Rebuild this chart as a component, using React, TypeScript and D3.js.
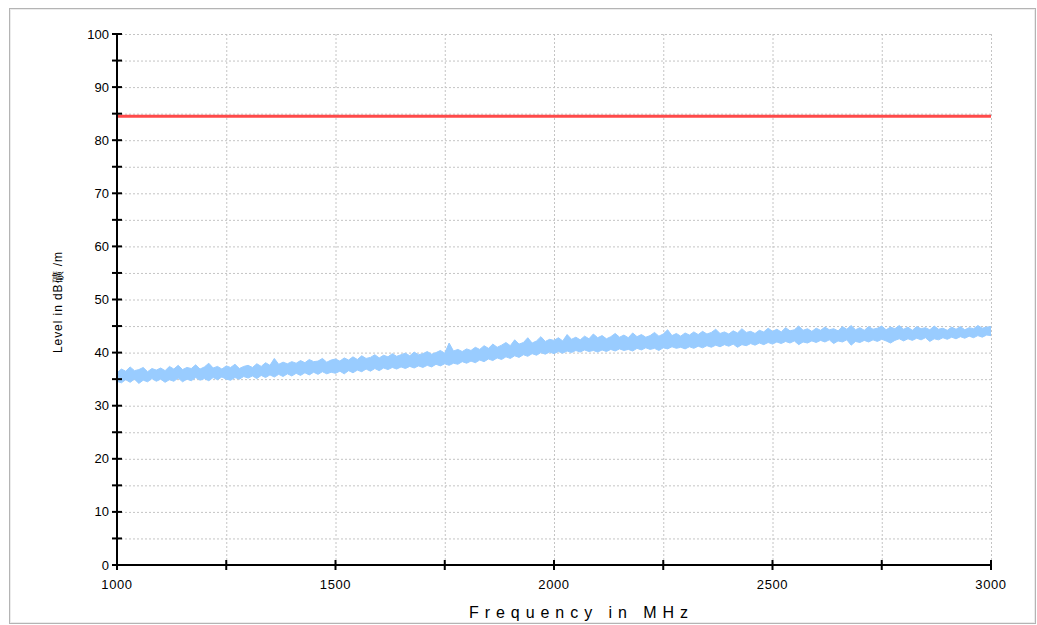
import React from 'react';
import * as d3 from 'd3';

// frequency grid of the trace envelopes, MHz
const freqs: number[] = d3.range(1000, 3001, 10);

// upper / lower edge of the measured noise band, dBµV/m
const upperLevel: number[] = [
	36.2, 36.9, 36.5, 37.3, 36.6, 36.8, 37.2, 36.4, 37.0, 36.7,
	37.1, 36.6, 37.4, 36.9, 37.6, 36.8, 37.2, 37.0, 37.7, 36.9,
	37.3, 38.0, 37.1, 37.4, 36.9, 37.5, 37.2, 37.8, 37.0, 37.4,
	37.6, 37.2, 37.9, 37.4, 38.1, 37.6, 38.9, 37.8, 38.2, 37.9,
	38.3, 38.0, 38.5, 38.1, 38.7, 38.3, 38.4, 38.9, 38.2, 38.6,
	38.8, 38.4, 39.0, 38.6, 39.2, 38.7, 39.4, 38.9, 39.1, 39.6,
	39.0, 39.5, 39.2, 39.8, 39.3, 39.6, 39.9, 39.4, 40.1, 39.6,
	39.8, 40.2, 39.7, 40.0, 40.4, 39.9, 41.8, 40.3, 40.6, 40.2,
	40.7, 40.4, 41.0, 40.6, 41.3, 40.8, 41.6, 41.0, 41.4, 41.9,
	41.3, 42.4, 41.6, 41.9, 42.8, 41.8, 42.2, 43.0, 42.1, 42.5,
	42.3, 42.8, 42.2, 43.4, 42.5, 42.9, 42.4, 43.1, 42.6, 43.5,
	42.8, 43.2, 42.6, 43.0, 43.6, 42.9, 43.3, 42.8, 43.7, 43.0,
	43.4, 42.9, 43.2, 43.8, 43.1, 43.5, 44.3, 43.2, 43.6, 43.1,
	43.7, 43.3, 43.9, 43.4, 44.0, 43.5, 43.8, 44.4, 43.6, 43.9,
	43.5, 44.1, 43.7, 44.5, 43.8, 44.0, 43.6, 44.2, 43.9, 44.6,
	44.0, 44.4, 43.9, 44.7, 44.1, 44.3, 45.0, 44.2, 44.5, 44.0,
	44.6, 44.2, 44.8, 44.3, 44.5, 44.1, 44.9, 44.4, 45.1, 44.3,
	44.7, 44.2, 44.9, 44.4, 44.6, 45.0, 44.3, 44.8, 44.5, 45.1,
	44.4, 44.8, 44.2, 44.9, 44.5, 44.7, 44.3, 45.0, 44.4, 44.6,
	44.2, 44.8, 44.4, 44.9, 44.3, 44.7, 44.5, 45.1, 44.6, 44.8,
	44.9
];
const lowerLevel: number[] = [
	34.6, 34.3, 34.9, 34.4, 35.0, 34.2, 34.8, 34.5, 35.1, 34.6,
	35.0, 34.4, 34.9, 34.6, 35.2, 34.5, 35.0, 34.7, 35.3, 34.8,
	35.1, 34.7, 35.3, 34.9, 35.4, 35.0, 34.8, 35.3, 35.0, 35.5,
	35.2, 35.6, 35.1, 35.7, 35.3, 35.8, 35.4, 35.9, 35.5, 36.0,
	35.6, 36.1, 35.7, 36.2, 35.8, 36.3, 35.9, 36.4, 36.0, 36.3,
	36.1, 36.5, 36.0, 36.6, 36.2, 36.7, 36.4, 36.9, 36.5, 37.0,
	36.6, 37.1, 36.8, 37.2, 36.9, 37.3, 37.0, 37.4, 37.1, 37.5,
	37.2, 37.6, 37.3, 37.8, 37.5, 37.9, 37.6, 38.0, 37.8, 38.3,
	38.0, 38.4, 38.1, 38.6, 38.3, 38.8, 38.5, 39.0, 38.7, 39.2,
	38.9, 39.4, 39.1, 39.6, 39.3, 39.8, 39.5, 40.0, 39.7, 40.1,
	39.8, 40.2, 39.9, 40.3, 40.0, 40.4, 40.1, 40.5, 40.2, 40.4,
	40.1, 40.5, 40.2, 40.6, 40.3, 40.7, 40.4, 40.6, 40.3, 40.8,
	40.5, 40.9, 40.6, 40.8, 40.4, 40.9, 40.7, 41.1, 40.8, 41.0,
	40.7, 41.1, 40.8, 41.2, 40.9, 41.3, 41.0, 41.4, 41.1, 41.5,
	41.2, 41.6, 41.0, 41.5, 41.3, 41.7, 41.4, 41.8, 41.5, 41.9,
	41.6, 42.0, 41.7, 42.1, 41.8, 42.2, 41.5, 42.0, 41.8, 42.2,
	41.9, 42.3, 42.0, 42.4, 41.7, 42.2, 42.0, 42.4, 41.4, 42.1,
	41.9, 42.3, 42.0, 42.4, 42.1, 42.5, 42.2, 41.8, 42.3, 42.6,
	42.2, 42.6, 42.3, 42.7, 42.4, 42.8, 42.1, 42.6, 42.4, 42.8,
	42.5, 42.9, 42.6, 43.0, 42.7, 43.1, 42.8, 43.2, 42.9, 43.3,
	43.2
];

const limitLevel = 84.5;

const xTicks: number[] = d3.range(1000, 3001, 250);
const xLabels: number[] = [1000, 1500, 2000, 2500, 3000];
const yTicks: number[] = d3.range(0, 101, 5);
const yLabels: number[] = d3.range(0, 101, 10);

const W = 1037;
const H = 625;
const plot = { left: 117, right: 991, top: 34, bottom: 565 };

const App = () => {
	const x = d3.scaleLinear().domain([1000, 3000]).range([plot.left, plot.right]);
	const y = d3.scaleLinear().domain([0, 100]).range([plot.bottom, plot.top]);

	const band = d3.area<number>()
		.x((d, i) => x(freqs[i]))
		.y0((d, i) => y(lowerLevel[i]))
		.y1((d) => y(d));
	const edge = d3.line<number>()
		.x((d, i) => x(freqs[i]))
		.y((d) => y(d));

	const font = '"Liberation Sans", Arial, sans-serif';

	return (
		<svg width={ W } height={ H }
			style={ { position: 'absolute', left: 0, top: 0, background: '#fff' } }>
			<rect x={ 9.5 } y={ 8.5 } width={ 1026 } height={ 615 } fill="#fff" stroke="#b4b4b4"/>
			<rect x={ 10.5 } y={ 9.5 } width={ 1024 } height={ 613 } fill="none" stroke="#ececec"/>

			{ /* grid */ }
			<g stroke="#c4c4c4" strokeWidth={ 1 } strokeDasharray="2,2">
				{ yTicks.filter((t) => t > 0).map((t) => (
					<line key={ 'gy' + t } x1={ plot.left } x2={ plot.right }
						y1={ y(t) + 0.5 } y2={ y(t) + 0.5 }/>
				)) }
				{ xTicks.filter((t) => t > 1000).map((t) => (
					<line key={ 'gx' + t } x1={ x(t) + 0.5 } x2={ x(t) + 0.5 }
						y1={ plot.top } y2={ plot.bottom }/>
				)) }
			</g>

			{ /* measured trace */ }
			<path d={ band(upperLevel) ?? '' } fill="#99ccff"/>
			<path d={ edge(upperLevel) ?? '' } fill="none" stroke="#99ccff" strokeWidth={ 1 }/>
			<path d={ edge(lowerLevel) ?? '' } fill="none" stroke="#99ccff" strokeWidth={ 1 }/>

			{ /* limit */ }
			<line x1={ plot.left } x2={ plot.right } y1={ y(limitLevel) } y2={ y(limitLevel) }
				stroke="#ff4a4a" strokeWidth={ 3 }/>

			{ /* axes */ }
			<g stroke="#000" strokeWidth={ 2 }>
				<line x1={ plot.left } x2={ plot.left } y1={ plot.top - 1 } y2={ plot.bottom }/>
				<line x1={ plot.left } x2={ plot.right + 1 } y1={ plot.bottom } y2={ plot.bottom }/>
				{ yTicks.map((t) => (
					<line key={ 'ty' + t } x1={ plot.left - 5 } x2={ plot.left + 5 } y1={ y(t) } y2={ y(t) }/>
				)) }
				{ xTicks.map((t) => (
					<line key={ 'tx' + t } x1={ x(t) } x2={ x(t) } y1={ plot.bottom - 5 } y2={ plot.bottom + 5 }/>
				)) }
			</g>

			<g fontFamily={ font } fontSize={ 13 } fill="#000">
				{ yLabels.map((t) => (
					<text key={ 'ly' + t } x={ plot.left - 8 } y={ y(t) + 4.5 } textAnchor="end">{ t }</text>
				)) }
				{ xLabels.map((t) => (
					<text key={ 'lx' + t } x={ x(t) } y={ 589 } textAnchor="middle" letterSpacing={ 0.6 }>{ t }</text>
				)) }
			</g>

			<text x={ 469 } y={ 618 } fontFamily={ font } fontSize={ 16 } textLength={ 219 }
				lengthAdjust="spacing">Frequency in MHz</text>
			<text transform="translate(62,353) rotate(-90)" fontFamily={ font } fontSize={ 12 }
				textLength={ 101 } lengthAdjust="spacing">Level in dB礦 /m</text>
		</svg>
	);
};

export default App;
